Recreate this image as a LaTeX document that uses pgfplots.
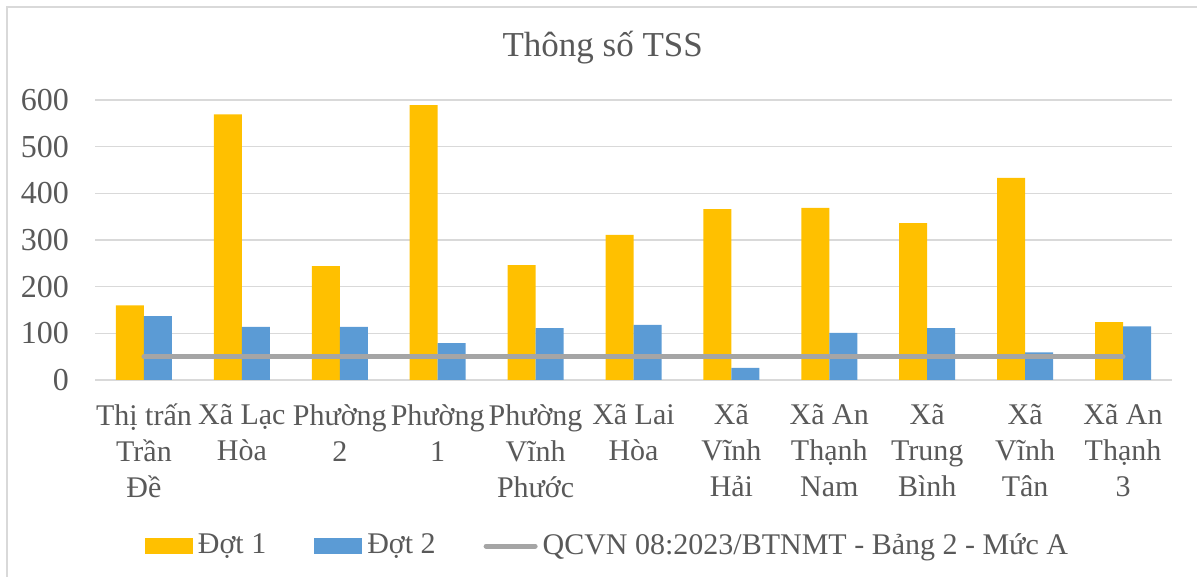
\documentclass[border=0pt]{standalone}
\usepackage{fontspec}
\setmainfont{Liberation Serif}
\usepackage{pgfplots}
\pgfplotsset{compat=1.18}
\definecolor{dotA}{HTML}{FFC000}
\definecolor{dotB}{HTML}{5B9BD5}
\definecolor{limgray}{HTML}{A5A5A5}
\definecolor{gridgray}{HTML}{D9D9D9}
\definecolor{labelgray}{HTML}{595959}
\begin{document}
\fontsize{32}{33.5}\selectfont
\begin{tikzpicture}[x=1pt,y=1pt]
\useasboundingbox (0,0) rectangle (1197,577);
\draw[color=gridgray, line width=1.5pt] (7,0) -- (7,570) -- (1197,570);
\node[anchor=base, text=labelgray, font=\fontsize{35}{40}\selectfont] at (602.7,520) {Thông số TSS};
\begin{axis}[
  at={(95pt,197pt)}, anchor=south west,
  scale only axis, width=1077pt, height=280pt,
  xmin=-0.5, xmax=10.5, ymin=0, ymax=600,
  ytick={0,100,...,600},
  xtick={0,...,10},
  xticklabels={{Thị trấn\\Trần\\Đề},{Xã Lạc\\Hòa},{Phường\\2},{Phường\\1},{Phường\\Vĩnh\\Phước},{Xã Lai\\Hòa},{Xã\\Vĩnh\\Hải},{Xã An\\Thạnh\\Nam},{Xã\\Trung\\Bình},{Xã\\Vĩnh\\Tân},{Xã An\\Thạnh\\3}},
  xticklabel style={align=center, anchor=north, yshift=-24pt, inner sep=0pt, text=labelgray,
    font=\fontsize{30}{36}\selectfont, execute at begin node={\rule{0pt}{30pt}}},
  yticklabel style={anchor=east, inner sep=0pt, xshift=-26pt, text=labelgray},
  /pgf/number format/assume math mode=true,
  major tick length=0pt,
  axis line style={draw=none},
  ymajorgrids, grid style={color=gridgray, line width=1.5pt},
  legend style={draw=none, fill=none, at={(0.4749,-0.593)}, anchor=center, text=labelgray,
    font=\fontsize{30}{33}\selectfont,
    nodes={inner sep=0pt},
    /tikz/every odd column/.append style={column sep=5pt},
    /tikz/every even column/.append style={column sep=48pt}},
  legend columns=3,
]
\addplot[ybar, bar width=28pt, bar shift=-14pt, fill=dotA, draw=none,
  legend image code/.code={\fill[dotA] (0pt,-8pt) rectangle (48pt,8pt);}]
  coordinates {(0,160) (1,569) (2,244) (3,589) (4,246) (5,311) (6,366) (7,369) (8,336) (9,433) (10,124)};
\addlegendentry{Đợt 1}
\addplot[ybar, bar width=28pt, bar shift=14pt, fill=dotB, draw=none,
  legend image code/.code={\fill[dotB] (0pt,-8pt) rectangle (48pt,8pt);}]
  coordinates {(0,137) (1,114) (2,114) (3,79) (4,111) (5,118) (6,26) (7,101) (8,111) (9,59) (10,115)};
\addlegendentry{Đợt 2}
\addplot[sharp plot, color=limgray, line width=5pt, line cap=round, mark=none,
  legend image code/.code={\draw[limgray, line width=5pt, line cap=round] (2pt,0pt) -- (51pt,0pt);}]
  coordinates {(0,50) (1,50) (2,50) (3,50) (4,50) (5,50) (6,50) (7,50) (8,50) (9,50) (10,50)};
\addlegendentry{QCVN 08:2023/BTNMT - Bảng 2 - Mức A}
\end{axis}
\end{tikzpicture}
\end{document}
